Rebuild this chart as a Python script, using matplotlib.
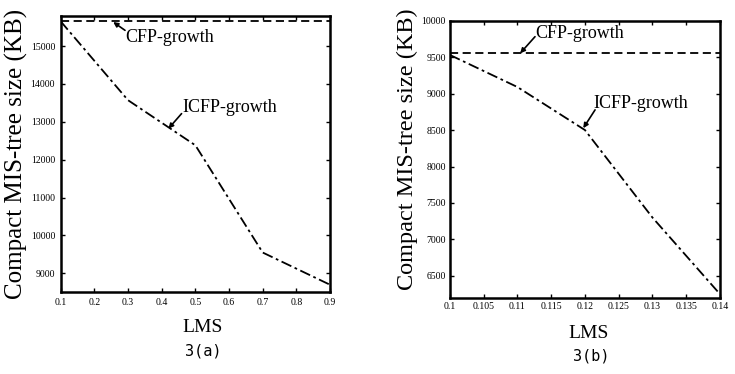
import matplotlib
matplotlib.use("Agg")
import matplotlib.pyplot as plt
from matplotlib.ticker import FuncFormatter

# Data — panel 3(a)
lms_a = [0.1, 0.3, 0.5, 0.7, 0.9]
icfp_a = [15650, 13570, 12380, 9550, 8700]
cfp_a = [15650, 15650, 15650, 15650, 15650]
xticks_a = [0.1, 0.2, 0.3, 0.4, 0.5, 0.6, 0.7, 0.8, 0.9]
yticks_a = [9000, 10000, 11000, 12000, 13000, 14000, 15000]

# Data — panel 3(b)
lms_b = [0.1, 0.11, 0.12, 0.13, 0.14]
icfp_b = [9530, 9090, 8500, 7300, 6250]
cfp_b = [9560, 9560, 9560, 9560, 9560]
xticks_b = [0.1, 0.105, 0.11, 0.115, 0.12, 0.125, 0.13, 0.135, 0.14]
yticks_b = [6500, 7000, 7500, 8000, 8500, 9000, 9500, 10000]

serif = "Liberation Serif"
fig = plt.figure(figsize=(7.35, 3.74), dpi=100)

def style(ax, xt, yt, xlim, ylim):
    ax.set_xlim(*xlim)
    ax.set_ylim(*ylim)
    ax.set_xticks(xt)
    ax.set_yticks(yt)
    ax.xaxis.set_major_formatter(FuncFormatter(lambda v, p: f"{v:g}"))
    ax.yaxis.set_major_formatter(FuncFormatter(lambda v, p: f"{v:g}"))
    ax.tick_params(direction="in", top=True, right=True, length=3, width=1,
                   labelsize=7, pad=4)
    for lab in ax.get_xticklabels() + ax.get_yticklabels():
        lab.set_fontfamily(serif)
    for s in ax.spines.values():
        s.set_linewidth(1.8)

ax1 = fig.add_axes([0.0826, 0.2184, 0.3664, 0.7396])
ax1.plot(lms_a, cfp_a, color="black", lw=1.3, linestyle=(0, (4.5, 2.5)))
ax1.plot(lms_a, icfp_a, color="black", lw=1.3, linestyle=(0, (6, 2, 1.5, 2)))
style(ax1, xticks_a, yticks_a, (0.1, 0.9), (8500, 15800))
ax1.annotate("", xy=(0.256, 15633), xytext=(0.291, 15414),
             arrowprops=dict(arrowstyle="-|>", color="black", lw=1.2,
                             mutation_scale=7, shrinkA=0, shrinkB=0))
ax1.text(0.293, 15237, "CFP-growth", family=serif, fontsize=13, ha="left", va="center")
ax1.annotate("", xy=(0.42, 12820), xytext=(0.459, 13216),
             arrowprops=dict(arrowstyle="-|>", color="black", lw=1.2,
                             mutation_scale=7, shrinkA=0, shrinkB=0))
ax1.text(0.462, 13390, "ICFP-growth", family=serif, fontsize=13, ha="left", va="center")

ax2 = fig.add_axes([0.6122, 0.204, 0.3673, 0.7406])
ax2.plot(lms_b, cfp_b, color="black", lw=1.3, linestyle=(0, (4.5, 2.5)))
ax2.plot(lms_b, icfp_b, color="black", lw=1.3, linestyle=(0, (6, 2, 1.5, 2)))
style(ax2, xticks_b, yticks_b, (0.1, 0.14), (6200, 10000))
ax2.tick_params(pad=3)
ax2.annotate("", xy=(0.1104, 9553), xytext=(0.1126, 9781),
             arrowprops=dict(arrowstyle="-|>", color="black", lw=1.2,
                             mutation_scale=7, shrinkA=0, shrinkB=0))
ax2.text(0.1127, 9827, "CFP-growth", family=serif, fontsize=13, ha="left", va="center")
ax2.annotate("", xy=(0.11975, 8526), xytext=(0.1215, 8777),
             arrowprops=dict(arrowstyle="-|>", color="black", lw=1.2,
                             mutation_scale=7, shrinkA=0, shrinkB=0))
ax2.text(0.1213, 8868, "ICFP-growth", family=serif, fontsize=13, ha="left", va="center")

# Axis labels as figure text for exact placement
W, H = 735.0, 374.0
fig.text(16 / W, 1 - 154 / H, "Compact MIS-tree size (KB)", family=serif,
         fontsize=18, rotation=90, ha="center", va="center")
fig.text(407 / W, 1 - 149 / H, "Compact MIS-tree size (KB)", family=serif,
         fontsize=17.5, rotation=90, ha="center", va="center")
fig.text(203 / W, 1 - 328 / H, "LMS", family=serif, fontsize=14, ha="center", va="center")
fig.text(589 / W, 1 - 334 / H, "LMS", family=serif, fontsize=14, ha="center", va="center")
fig.text(203 / W, 1 - 351 / H, "3(a)", family="DejaVu Sans Mono", fontsize=11,
         ha="center", va="center")
fig.text(591 / W, 1 - 356 / H, "3(b)", family="DejaVu Sans Mono", fontsize=11,
         ha="center", va="center")

fig.savefig("out.png", dpi=100)
